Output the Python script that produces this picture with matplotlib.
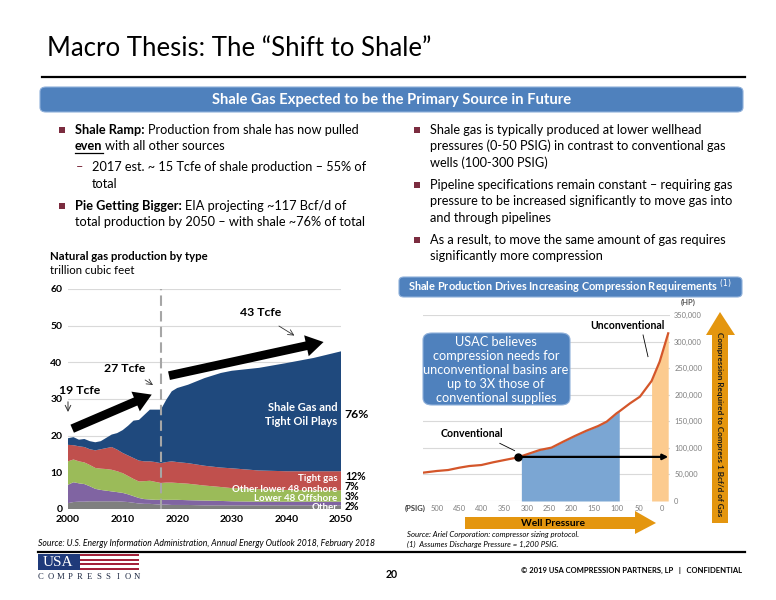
import numpy as np
import matplotlib
matplotlib.use("Agg")
import matplotlib.pyplot as plt
from matplotlib.patches import FancyBboxPatch, Polygon, Rectangle, FancyArrowPatch
from matplotlib.lines import Line2D
import matplotlib.ticker as ticker

W, H = 776, 600
FONT = ["Lato", "DejaVu Sans"]
plt.rcParams["font.family"] = FONT

# ---------------- left chart data (trillion cubic feet) ----------------
years = [2000, 2001, 2002, 2003, 2004, 2005, 2006, 2007, 2008, 2009, 2010,
         2011, 2012, 2013, 2014, 2015, 2016, 2017, 2018, 2019, 2020,
         2022, 2025, 2028, 2030, 2035, 2040, 2045, 2050]
other = [1.6, 1.9, 2.0, 2.0, 2.1, 2.1, 2.1, 2.1, 2.1, 2.1, 2.0,
         1.9, 1.7, 1.5, 1.4, 1.4, 1.3, 1.2, 1.2, 1.1, 1.1,
         1.1, 1.0, 1.0, 1.0, 1.0, 1.0, 1.0, 1.0]
offshore = [5.0, 5.4, 5.0, 4.8, 4.1, 3.4, 3.1, 2.9, 2.7, 2.5, 2.4,
            2.1, 1.8, 1.5, 1.3, 1.2, 1.2, 1.3, 1.3, 1.4, 1.4,
            1.3, 1.3, 1.2, 1.1, 1.0, 1.0, 1.0, 1.0]
onshore = [6.4, 6.2, 6.0, 5.9, 5.8, 5.7, 5.8, 5.9, 5.9, 5.7, 5.4,
           5.0, 4.7, 4.5, 4.9, 5.1, 4.9, 4.6, 4.7, 4.7, 4.6,
           4.5, 4.1, 3.8, 3.6, 3.4, 3.2, 3.1, 3.1]
tight = [4.5, 3.9, 4.1, 4.2, 4.3, 4.8, 5.3, 5.7, 6.2, 5.9, 5.5,
         5.6, 5.7, 5.7, 5.4, 5.3, 5.4, 5.4, 5.6, 5.8, 5.7,
         5.6, 5.4, 5.3, 5.4, 5.1, 5.1, 5.2, 5.2]
shale = [1.8, 2.2, 1.8, 2.2, 2.2, 2.2, 2.2, 2.8, 3.4, 4.5, 6.2,
         8.1, 10.2, 11.1, 12.7, 14.1, 14.3, 14.6, 17.0, 19.1, 20.2,
         21.4, 23.9, 25.8, 26.6, 28.0, 29.5, 30.9, 32.7]
series_colors = ["#7F7F7F", "#8064A2", "#9BBB59", "#C0504D", "#1F497D"]
series_names = ["Other", "Lower 48 Offshore", "Other lower 48 onshore",
                "Tight gas", "Shale Gas and\nTight Oil Plays"]
share_2050 = ["2%", "3%", "7%", "12%", "76%"]

# ---------------- right chart data ----------------
psig = [531, 500, 475, 450, 428, 401, 375, 349, 319, 312, 293, 271, 245,
        219, 193, 167, 141, 122, 100, 94, 70, 48, 22, 4, -15]
hp = [53300, 56500, 58300, 62700, 65800, 67700, 72800, 77200, 82200, 84300,
      89700, 96000, 100400, 111600, 122300, 132300, 141100, 149300, 165000,
      168500, 183800, 196300, 225800, 262200, 315500]
conv_band = (312, 94)
unconv_band = (22, -15)
conv_point = (319, 83000)

fig = plt.figure(figsize=(W / 100, H / 100), dpi=100)


def fx(x):
    return x / W


def fy(y):
    return 1 - y / H


def put(x, y, s, **kw):
    kw.setdefault("va", "center")
    return fig.text(fx(x), fy(y), s, **kw)


def poly(pts, **kw):
    fig.add_artist(Polygon([(fx(a), fy(b)) for a, b in pts], closed=True,
                           transform=fig.transFigure, **kw))


def rbox(x0, y0, x1, y1, color, pad=4):
    fig.add_artist(FancyBboxPatch((fx(x0), fy(y1)), fx(x1) - fx(x0), fy(y0) - fy(y1),
                                  boxstyle=f"round,pad=0,rounding_size={pad / W}",
                                  transform=fig.transFigure, fc=color, ec="#8FB0DA", lw=0.8))


renderer = fig.canvas.get_renderer()
BODY = 9.15


def runs(x, y, parts, size=BODY):
    for s, weight, ul in parts:
        t = put(x, y, s, fontsize=size, fontweight=weight, ha="left")
        bb = t.get_window_extent(renderer=renderer)
        if ul:
            fig.add_artist(Line2D([bb.x0 / W, bb.x1 / W], [(bb.y0 - 1) / H] * 2,
                                  color="black", lw=0.9))
        x += bb.width + 3


def bullet(x, y):
    fig.add_artist(Rectangle((fx(x - 3), fy(y + 3)), 6 / W, 6 / H,
                             transform=fig.transFigure, fc="#7B2C3F", ec="none"))


# ---------------- header ----------------
put(47, 48, "Macro Thesis: The \u201cShift to Shale\u201d", fontsize=18.5, ha="left")
fig.add_artist(Line2D([fx(42), fx(745)], [fy(77)] * 2, color="black", lw=1.6))
rbox(40, 87, 743, 112, "#4F81BD", pad=6)
put(392, 100, "Shale Gas Expected to be the Primary Source in Future",
    fontsize=10.6, fontweight="bold", color="white", ha="center")

# left bullets
bullet(62, 130)
runs(75, 130, [("Shale Ramp:", "bold", False),
               ("Production from shale has now pulled", "normal", False)])
runs(75, 146, [("even", "bold", True), ("with all other sources", "normal", False)])
put(76, 167, "\u2013", fontsize=BODY, color="#7B2C3F", ha="left")
put(92, 167, "2017 est. ~ 15 Tcfe of shale production \u2013 55% of", fontsize=BODY, ha="left")
put(92, 184, "total", fontsize=BODY, ha="left")
bullet(62, 206)
runs(75, 206, [("Pie Getting Bigger:", "bold", False),
               ("EIA projecting ~117 Bcf/d of", "normal", False)])
put(75, 222, "total production by 2050 \u2013 with shale ~76% of total", fontsize=BODY, ha="left")

# right bullets
right_lines = [
    (130, "Shale gas is typically produced at lower wellhead", True),
    (146, "pressures (0-50 PSIG) in contrast to conventional gas", False),
    (163, "wells (100-300 PSIG)", False),
    (185, "Pipeline specifications remain constant \u2013 requiring gas", True),
    (201, "pressure to be increased significantly to move gas into", False),
    (218, "and through pipelines", False),
    (240, "As a result, to move the same amount of gas requires", True),
    (256, "significantly more compression", False),
]
for yy, s, b in right_lines:
    if b:
        bullet(417, yy)
    put(430, yy, s, fontsize=BODY, ha="left")

# ---------------- left chart ----------------
put(50, 257, "Natural gas production by type", fontsize=8.2, fontweight="bold", ha="left")
put(50, 271, "trillion cubic feet", fontsize=8.2, ha="left")

ax = fig.add_axes([fx(68), fy(509), (341 - 68) / W, (509 - 289) / H])
ax.stackplot(years, other, offshore, onshore, tight, shale,
             colors=series_colors, lw=0)
ax.set_xlim(2000, 2050)
ax.set_ylim(0, 60)
ax.set_yticks(range(0, 61, 10))
ax.set_xticks(range(2000, 2051, 10))
ax.grid(axis="y", color="#D9D9D9", lw=0.8)
ax.set_axisbelow(True)
for sp in ax.spines.values():
    sp.set_visible(False)
ax.tick_params(length=0, labelsize=7.5, pad=4)
for lbl in ax.get_xticklabels() + ax.get_yticklabels():
    lbl.set_fontweight("bold")
ax.axvline(2017, color="#A6A6A6", lw=1.5, ls=(0, (5, 2.5)))

name_y = [0.45, 2.9, 5.4, 8.3, 25.7]
pct_y = [0.75, 3.45, 6.15, 8.9, 25.7]
for name, pct, ny, py in zip(series_names, share_2050, name_y, pct_y):
    two = "\n" in name
    ax.text(2049.4, ny, name, color="white", fontsize=8 if two else 7.0,
            fontweight="bold", ha="right", va="center", linespacing=1.35)
    ax.text(2050.7, py, pct, color="black", fontsize=8.8 if two else 7.6,
            fontweight="bold", ha="left", va="center", clip_on=False)

big = "simple,head_length=0.9,head_width=1.1,tail_width=0.45"
ax.add_patch(FancyArrowPatch((2000.3, 21.6), (2015.8, 31.5), arrowstyle=big,
                             mutation_scale=14, color="black", lw=0))
ax.add_patch(FancyArrowPatch((2018.0, 36.2), (2047.3, 45.7), arrowstyle=big,
                             mutation_scale=14, color="black", lw=0))
ax.text(2002.2, 32.3, "19 Tcfe", fontsize=8.8, fontweight="bold", ha="center", va="center")
ax.annotate("", xy=(2000.0, 25.7), xytext=(2000.0, 30.0),
            arrowprops=dict(arrowstyle="->", lw=0.7, color="#333333"), annotation_clip=False)
ax.text(2010.3, 38.3, "27 Tcfe", fontsize=8.8, fontweight="bold", ha="center", va="center")
ax.annotate("", xy=(2016.0, 33.4), xytext=(2013.7, 35.6),
            arrowprops=dict(arrowstyle="->", lw=0.6, color="#333333"))
ax.text(2035.2, 53.6, "43 Tcfe", fontsize=8.8, fontweight="bold", ha="center", va="center")
ax.annotate("", xy=(2041.9, 46.9), xytext=(2038.2, 50.3),
            arrowprops=dict(arrowstyle="->", lw=0.6, color="#333333"))

put(38, 543, "Source: U.S. Energy Information Administration, Annual Energy Outlook 2018, February 2018",
    fontsize=6.2, style="italic", ha="left")

# ---------------- right chart ----------------
rbox(399, 277, 742, 297, "#4F81BD", pad=5)
put(570, 287, "Shale Production Drives Increasing Compression Requirements $^{(1)}$",
    fontsize=7.9, fontweight="bold", color="white", ha="center")

ax2 = fig.add_axes([fx(423), fy(501), (670 - 423) / W, (501 - 315) / H])
p = np.array(psig)
h = np.array(hp)
ax2.fill_between(p, h, where=(p <= conv_band[0]) & (p >= conv_band[1]),
                 color="#7BA6D3", lw=0)
ax2.fill_between(p, h, where=(p <= unconv_band[0]) & (p >= unconv_band[1]),
                 color="#FCCB8F", lw=0)
ax2.plot(p, h, color="#D4562A", lw=1.6)
ax2.set_xlim(531, -19)
ax2.set_ylim(0, 350000)
ax2.set_yticks(range(0, 350001, 50000))
ax2.set_xticks(range(500, -1, -50))
ax2.yaxis.set_major_formatter(ticker.FuncFormatter(lambda v, _: f"{v:,.0f}"))
ax2.yaxis.tick_right()
ax2.grid(axis="y", color="#D9D9D9", lw=0.8)
ax2.set_axisbelow(True)
for sp in ax2.spines.values():
    sp.set_visible(False)
ax2.tick_params(length=0, labelsize=5.4, colors="#7F7F7F", pad=3)
ax2.plot(*conv_point, "o", color="black", ms=5)
ax2.annotate("", xy=(-15, conv_point[1]), xytext=conv_point,
             arrowprops=dict(arrowstyle="-|>", lw=1.6, color="black",
                             mutation_scale=8, shrinkA=0, shrinkB=0))
ax2.text(423, 126600, "Conventional", fontsize=7.6, fontweight="bold", ha="center", va="center")
ax2.plot([360, 327], [108500, 94700], color="black", lw=0.6)
ax2.text(76, 331000, "Unconventional", fontsize=7.6, fontweight="bold", ha="center", va="center")
ax2.plot([41, 30], [312400, 271600], color="black", lw=0.6)

put(688, 302, "(HP)", fontsize=5.5, fontweight="bold", color="#595959", ha="center")
put(415, 508, "(PSIG)", fontsize=5.5, fontweight="bold", color="#404040", ha="center")

rbox(423, 333, 570, 405, "#4F81BD", pad=9)
box_lines = ["USAC believes", "compression needs for", "unconventional basins are",
             "up to 3X those of", "conventional supplies"]
for i, s in enumerate(box_lines):
    put(496, 342 + 14 * i, s, fontsize=9.2, color="white", ha="center")

orange = "#E4960F"
poly([(712, 523), (712, 335), (706, 335), (720, 312), (735, 335),
      (728, 335), (728, 523)], fc=orange, ec="none")
put(720, 424, "Compression Required to Compress 1 Bcf/d of Gas", fontsize=5.9,
    fontweight="bold", rotation=-90, ha="center", color="#1A1A1A")
poly([(465, 517), (635, 517), (635, 511), (656, 523), (635, 534),
      (635, 529), (465, 529)], fc=orange, ec="none")
put(553, 523, "Well Pressure", fontsize=7.4, fontweight="bold", ha="center")

put(407, 534, "Source: Ariel Corporation: compressor sizing protocol.", fontsize=5.6,
    style="italic", ha="left")
put(407, 544, "(1)  Assumes Discharge Pressure = 1,200 PSIG.", fontsize=5.6,
    style="italic", ha="left")

# ---------------- footer ----------------
fig.add_artist(Line2D([fx(38), fx(745)], [fy(552)] * 2, color="black", lw=1.6))
fig.add_artist(Rectangle((fx(38), fy(570)), 42 / W, 16 / H, transform=fig.transFigure,
                         fc="#1F3A7A", ec="none"))
put(58, 562, "USA", fontsize=11, color="white", family="Liberation Serif", ha="center")
for k in range(7):
    col = "#A3213A" if k % 2 == 0 else "white"
    fig.add_artist(Rectangle((fx(80), fy(554 + 16 * (k + 1) / 7)), 59 / W, (16 / 7) / H,
                             transform=fig.transFigure, fc=col, ec="none"))
for k, ch in enumerate("COMPRESSION"):
    put(41 + 9.6 * k, 577, ch, fontsize=6.2, family="Liberation Serif", ha="center",
        color="#1F2A44")
put(392, 574, "20", fontsize=7.6, fontweight="bold", ha="center")
put(742, 570, "\u00a9 2019 USA COMPRESSION PARTNERS, LP   |   CONFIDENTIAL", fontsize=5.5,
    fontweight="bold", ha="right")

fig.savefig("out.png", dpi=100)
